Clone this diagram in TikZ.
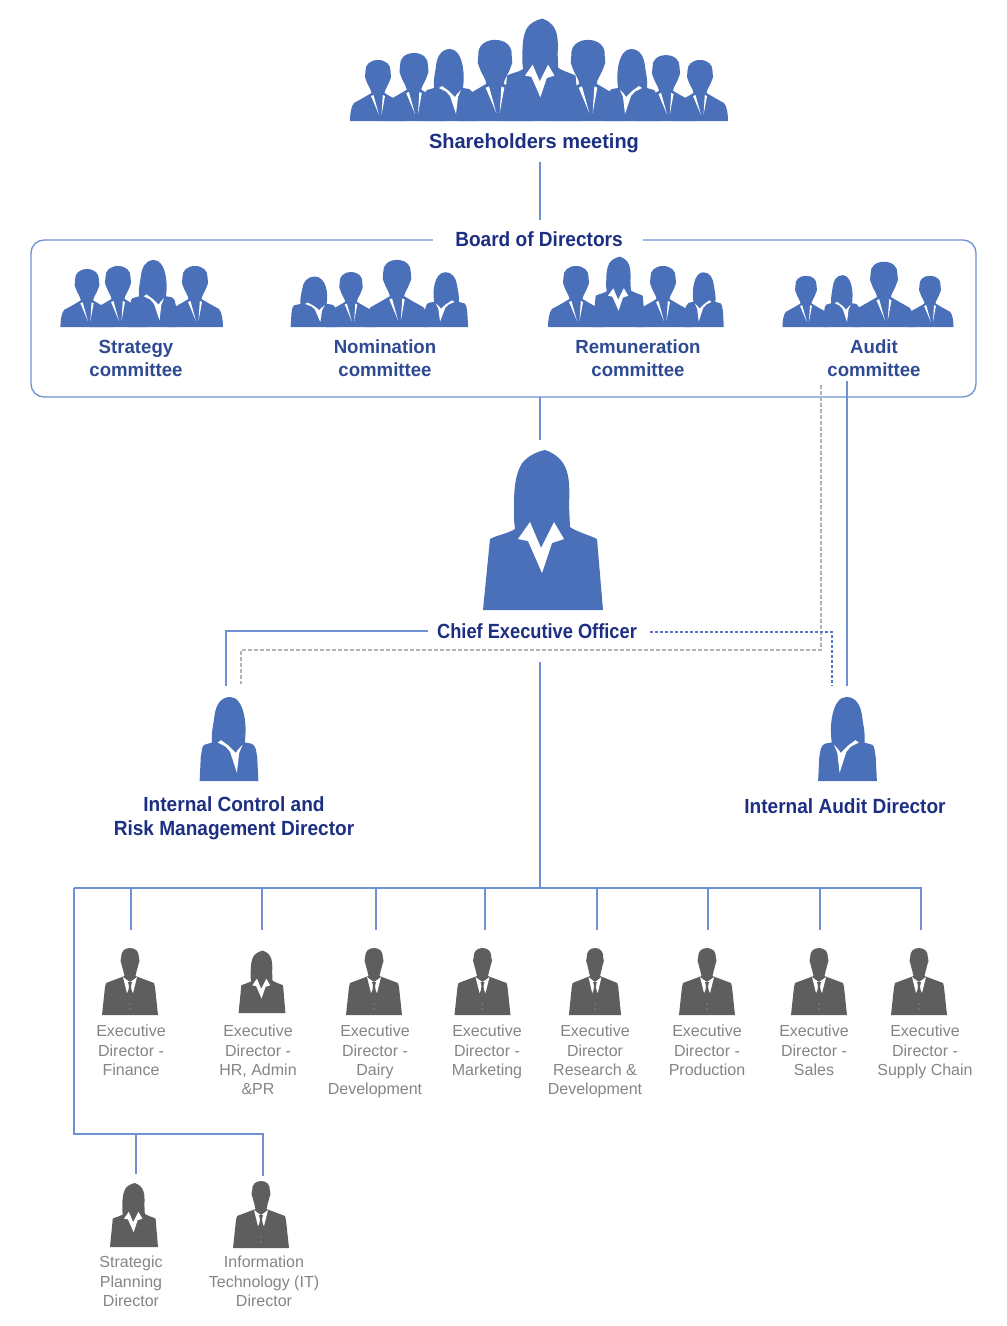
\documentclass[tikz,border=0pt]{standalone}
\usepackage{fontspec}
\setmainfont{Liberation Sans}
\newfontfamily\titlefont[FakeStretch=0.93]{Liberation Sans}
\newfontfamily\ceofont[FakeStretch=0.89]{Liberation Sans}
\newfontfamily\shfont[FakeStretch=0.975]{Liberation Sans}
\newfontfamily\commfont[FakeStretch=0.98]{Liberation Sans}
\usetikzlibrary{backgrounds}
\definecolor{figblue}{HTML}{4A70B9}
\definecolor{figgray}{HTML}{5E5E5E}
\definecolor{linkblue}{HTML}{6F90D2}
\definecolor{dashblue}{HTML}{5578C4}
\definecolor{dashgray}{HTML}{B4B4B4}
\definecolor{navy}{HTML}{1D2F82}
\definecolor{midnavy}{HTML}{2E4A92}
\definecolor{txtgray}{HTML}{858585}
\colorlet{figcol}{figblue}
\tikzset{
  conn/.style={draw=linkblue,line width=1.3pt,line join=miter},
  bluedash/.style={draw=dashblue,line width=1.3pt,dash pattern=on 3pt off 2pt},
  graydash/.style={draw=dashgray,line width=1.3pt,dash pattern=on 4pt off 2pt},
  bigtitle/.style={font=\fontsize{20.5}{24}\titlefont\bfseries,text=navy,inner sep=0pt,align=center},
  comm/.style={font=\fontsize{19}{23}\commfont\bfseries,text=midnavy,inner sep=0pt,align=center},
  staff/.style={font=\fontsize{16}{19.3}\selectfont,text=txtgray,inner sep=0pt,align=center,anchor=north},
  pics/woman/.style={code={
    \begin{scope}[on background layer]
    \fill[figcol] (2,-160) .. controls (-8,-158) and (-18,-152) .. (-22,-145)
      .. controls (-28,-134) and (-29,-120) .. (-29,-105) -- (-29,-90) -- (-28,-81)
      .. controls (-36,-76) and (-46,-75) .. (-53,-71) -- (-60,0) -- (60,0) -- (54,-71)
      .. controls (46,-75) and (34,-78) .. (27,-83) -- (26,-105)
      .. controls (27,-125) and (26,-138) .. (20,-147) .. controls (14,-155) and (8,-158) .. (2,-160) -- cycle;
    \end{scope}
    \fill[white] (-13,-88) -- (-25,-71) -- (-15,-69) -- (-1,-37) -- (9,-67) -- (21,-71) -- (11,-88)
      -- (-2,-62) -- cycle;
  }},
  pics/sidewoman/.style={code={
    \begin{scope}[on background layer]
    \fill[figcol] (1,-72) .. controls (-8,-72) and (-12,-64) .. (-13,-55)
      .. controls (-14,-47) and (-16,-40) .. (-15,-33) -- (-22,-31)
      .. controls (-24,-30) and (-24,-26) .. (-25,-20) -- (-26,0) -- (26,0) -- (25,-20)
      .. controls (24,-26) and (24,-30) .. (20,-32) -- (14,-33)
      .. controls (15,-42) and (15,-50) .. (13,-58) .. controls (11,-66) and (7,-72) .. (1,-72) -- cycle;
    \end{scope}
    \fill[white] (-10,-33) -- (-3,-29.5) -- (1,-25) -- (7,-7) -- (9,-24) -- (12,-31) -- (8,-27) -- (6,-24) -- (0,-30) -- (-7,-35) -- cycle;
  }},
  pics/man/.style={code={
    \begin{scope}[on background layer]
    \fill[figcol] (0,-61) .. controls (8,-61) and (13,-56) .. (12.5,-50) -- (13,-44) -- (12,-41)
      .. controls (10,-35) and (7,-32) .. (6.5,-28) -- (15,-23) -- (24,-18)
      .. controls (27,-15) and (28,-6) .. (28,0) -- (-28,0)
      .. controls (-28,-6) and (-27,-15) .. (-24,-18) -- (-15,-23) -- (-6.5,-28)
      .. controls (-7,-32) and (-10,-35) .. (-12,-41) -- (-13,-44) -- (-12.5,-50)
      .. controls (-13,-56) and (-8,-61) .. (0,-61) -- cycle;
    \end{scope}
    \fill[white] (-7,-25) -- (-4.5,-26) -- (1,-6) -- cycle;
    \fill[white] (7,-25) -- (4.8,-26) -- (3.5,-6) -- cycle;
  }},
  pics/suit/.style={code={
    \begin{scope}[on background layer]
    \fill[figcol] (0,-67) .. controls (6,-67) and (9,-63) .. (8.8,-58) -- (9.5,-54) -- (8.5,-51)
      .. controls (7.5,-46) and (6,-43) .. (5.5,-39) -- (8,-38) -- (24,-32) -- (25,-28) -- (28,0)
      -- (-28,0) -- (-25,-28) -- (-24,-32) -- (-8,-38) -- (-5.5,-39)
      .. controls (-6,-43) and (-7.5,-46) .. (-8.5,-51) -- (-9.5,-54) -- (-8.8,-58)
      .. controls (-9,-63) and (-6,-67) .. (0,-67) -- cycle;
    \end{scope}
    \fill[white] (-7,-38) -- (-3,-22) -- (0,-28) -- (3,-22) -- (7,-38) -- (3,-35) -- (0,-33) -- (-3,-35) -- cycle;
    \fill[figcol] (-2,-33) -- (2,-33) -- (1,-29) -- (2.2,-20) -- (0,-17) -- (-2.2,-20) -- (-1,-29) -- cycle;
    \fill[white!22!figcol] (0,-11) circle (0.8) (0,-6) circle (0.8);
  }},
}
\begin{document}
\begin{tikzpicture}[x=1pt,y=-1pt]
\begin{scope}[on background layer]
\fill[white] (0,0) rectangle (1007,1326);
\end{scope}
\useasboundingbox (0,0) rectangle (1007,1326);

% Shareholders
\pic[scale=1] at (378,121) {man};
\pic[scale=1.115] at (414,121) {man};
\pic[scale=1] at (449,121) {sidewoman};
\pic[scale=1.33] at (495,121) {man};
\pic[scale=.64] at (541,121) {woman};
\pic[scale=1.33] at (588,121) {man};
\pic[xscale=-1] at (632,121) {sidewoman};
\pic[scale=1.08] at (666,121) {man};
\pic[scale=1] at (700,121) {man};
\node[bigtitle,font=\fontsize{20.5}{24}\shfont\bfseries] (sh) at (534,143) {Shareholders meeting};

% Board frame
\node[draw=linkblue,line width=1.3pt,rounded corners=13pt,minimum width=945pt,minimum height=157pt,inner sep=0pt] (board) at (503.5,318.5) {};
\node[fill=white,minimum width=210pt,minimum height=22pt,inner sep=0pt] (bdgap) at (538,240) {};
\node[bigtitle] (bd) at (539,239) {Board of Directors};

% Strategy
\pic[scale=.95] at (87,327) {man};
\pic[scale=1] at (118,327) {man};
\pic[scale=.93] at (153,327) {sidewoman};
\pic[scale=1] at (195,327) {man};
\node[comm] (strategy) at (136,358.5) {Strategy\\committee};
% Nomination
\pic[xscale=.9,yscale=.7] at (314,327) {sidewoman};
\pic[scale=.9] at (351,327) {man};
\pic[scale=1.1] at (397,327) {man};
\pic[xscale=-.85,yscale=.76] at (446,327) {sidewoman};
\node[comm] (nomination) at (385,358.5) {Nomination\\committee};
% Remuneration
\pic[scale=1] at (576,327) {man};
\pic[scale=.44] at (619,327) {woman};
\pic[scale=1] at (663,327) {man};
\pic[xscale=-.76,yscale=.76] at (704,327) {sidewoman};
\node[comm] (remuneration) at (638,358.5) {Remuneration\\committee};
% Audit
\pic[scale=.84] at (806,327) {man};
\pic[scale=.72] at (842,327) {sidewoman};
\pic[scale=1.07] at (884,327) {man};
\pic[scale=.84] at (930,327) {man};
\node[comm] (audit) at (874,358.5) {Audit\\committee};

% CEO
\pic[scale=1] at (543,610) {woman};
\node[bigtitle,font=\fontsize{20.5}{24}\ceofont\bfseries] (ceo) at (537,631) {Chief Executive Officer};

% Internal
\pic[xscale=1.13,yscale=1.167] at (229,781) {sidewoman};
\pic[xscale=-1.13,yscale=1.167] at (847.5,781) {sidewoman};
\node[bigtitle] (icrm) at (234,818) {Internal Control and\\Risk Management Director};
\node[bigtitle] (iad) at (845,806) {Internal Audit Director};

% Staff row
\colorlet{figcol}{figgray}
\pic at (130,1015) {suit};
\pic[scale=.39] at (262,1013) {woman};
\pic at (374,1015) {suit};
\pic at (482.5,1015) {suit};
\pic[xscale=.93] at (595,1015) {suit};
\pic at (707,1015) {suit};
\pic at (819,1015) {suit};
\pic at (919,1015) {suit};
\pic[scale=.40] at (134,1247) {woman};
\pic[scale=1] at (261,1248) {suit};
\node[staff] (s1) at (131,1025) {Executive\\Director -\\Finance};
\node[staff] (s2) at (258,1025) {Executive\\Director -\\HR, Admin\\\&PR};
\node[staff] (s3) at (375,1025) {Executive\\Director -\\Dairy\\Development};
\node[staff] (s4) at (487,1025) {Executive\\Director -\\Marketing};
\node[staff] (s5) at (595,1025) {Executive\\Director\\Research \&\\Development};
\node[staff] (s6) at (707,1025) {Executive\\Director -\\Production};
\node[staff] (s7) at (814,1025) {Executive\\Director -\\Sales};
\node[staff] (s8) at (925,1025) {Executive\\Director -\\Supply Chain};
\node[staff] (s9) at (131,1256) {Strategic\\Planning\\Director};
\node[staff] (s10) at (264,1256) {Information\\Technology (IT)\\Director};

% Connector ends
\coordinate (a1) at (540,162); \coordinate (a2) at (540,220);
\coordinate (b1) at (540,397); \coordinate (b2) at (540,440);
\coordinate (c1) at (847,381); \coordinate (c2) at (847,686);
\coordinate (d1) at (821,385); \coordinate (d2) at (821,650); \coordinate (d3) at (241,650); \coordinate (d4) at (241,684);
\coordinate (e1) at (428,631); \coordinate (e2) at (226,631); \coordinate (e3) at (226,686);
\coordinate (f1) at (650,632); \coordinate (f2) at (832,632); \coordinate (f3) at (832,686);
\coordinate (g1) at (540,662); \coordinate (g2) at (540,888);
\coordinate (busl) at (74,888); \coordinate (busr) at (921,888);
\coordinate (low1) at (74,1134); \coordinate (low2) at (263,1134); \coordinate (low3) at (263,1176);
\coordinate (low4) at (136,1134); \coordinate (low5) at (136,1174);

\draw[conn] (a1) -- (a2);
\draw[conn] (b1) -- (b2);
\draw[conn] (c1) -- (c2);
\draw[graydash] (d1) -- (d2) -- (d3) -- (d4);
\draw[conn] (e1) -- (e2) -- (e3);
\draw[bluedash] (f1) -- (f2) -- (f3);
\draw[conn] (g1) -- (g2);
\draw[conn] (busl) -- (busr) -- ++(0,42);
\draw[conn] (busl) -- (low1) -- (low2) -- (low3);
\draw[conn] (low4) -- (low5);
\foreach \xx in {131,262,376,485,597,708,820} \draw[conn] (\xx,888) -- (\xx,930);
\end{tikzpicture}
\end{document}
